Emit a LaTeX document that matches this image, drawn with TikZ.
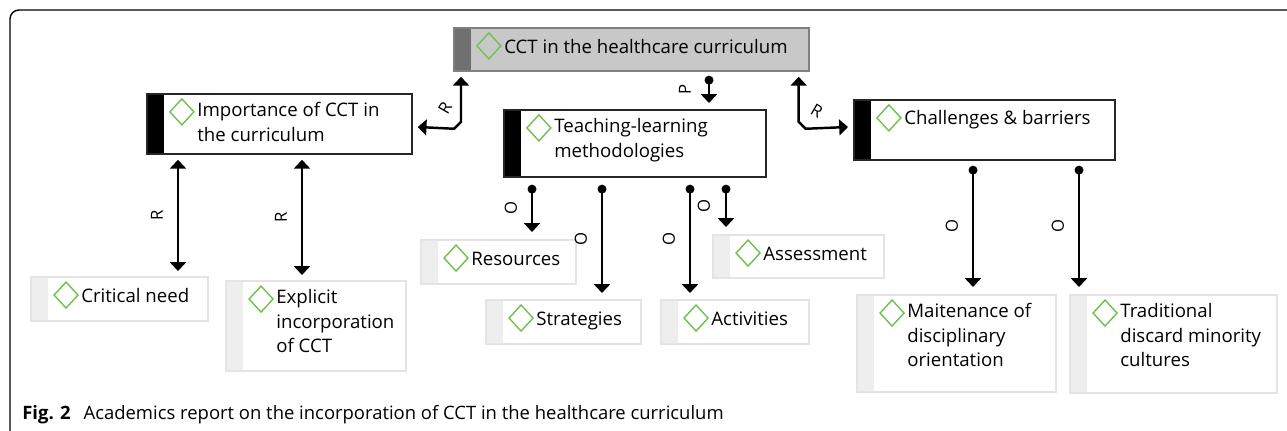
\documentclass[tikz,border=0pt]{standalone}
\usepackage{fontspec}
\setmainfont{Open Sans}
\usetikzlibrary{arrows.meta,calc}

\definecolor{dgreen}{RGB}{112,192,80}
\definecolor{rootgray}{RGB}{200,200,200}
\definecolor{rootbar}{RGB}{112,112,112}
\definecolor{leafline}{RGB}{228,228,228}
\definecolor{leafbar}{RGB}{238,238,238}

% bar on the left side and green diamond of every box
\newcommand{\barfill}[1]{\fill[#1] (path picture bounding box.north west) rectangle ([xshift=0.34cm]path picture bounding box.south west);}
\newcommand{\dmd}{\draw[dgreen,line width=0.8pt] ([shift={(0.46cm,-0.36cm)}]path picture bounding box.north west) -- ++(0.24cm,0.26cm) -- ++(0.24cm,-0.26cm) -- ++(-0.24cm,-0.26cm) -- cycle;}

\tikzset{
  base/.style={anchor=north west, inner sep=0pt},
  core/.style={base, draw=black!50, line width=1pt, fill=rootgray, path picture={\barfill{rootbar}\dmd}},
  topic/.style={base, draw=black!85, line width=1pt, fill=white, path picture={\barfill{black}\dmd}},
  leaf/.style={base, draw=leafline, line width=1.2pt, fill=white, path picture={\barfill{leafbar}\dmd}},
  txt/.style={anchor=north west, inner sep=0pt, align=left, font=\fontsize{10.6}{14}\selectfont, execute at begin node=\strut},
  link/.style={line width=1.4pt},
  rel/.style={font=\fontsize{9.5}{10}\selectfont, inner sep=1pt},
}

\begin{document}
\begin{tikzpicture}[x=0.02cm,y=-0.02cm,>={Triangle[width=9pt,length=5pt]}]
\useasboundingbox (0,0) rectangle (1287,430);
\draw[line width=0.8pt,rounded corners=0.18cm] (1295,10) -- (10,10) -- (10,440);

% boxes
\node[core, minimum width=7.10cm, minimum height=0.86cm] (root) at (453,27) {};
\node[topic, minimum width=5.30cm, minimum height=1.20cm] (imp) at (146,93) {};
\node[topic, minimum width=5.24cm, minimum height=1.34cm] (teach) at (503,109) {};
\node[topic, minimum width=5.22cm, minimum height=1.20cm] (chal) at (853,99) {};
\node[leaf, minimum width=3.54cm, minimum height=0.88cm] (crit) at (30,276) {};
\node[leaf, minimum width=3.60cm, minimum height=1.80cm] (expl) at (225,280) {};
\node[leaf, minimum width=3.10cm, minimum height=0.88cm] (res) at (420,239) {};
\node[leaf, minimum width=3.10cm, minimum height=0.88cm] (strat) at (485,299) {};
\node[leaf, minimum width=2.96cm, minimum height=0.88cm] (act) at (660,299) {};
\node[leaf, minimum width=3.42cm, minimum height=0.86cm] (ass) at (712,234) {};
\node[leaf, minimum width=3.98cm, minimum height=1.94cm] (main) at (856,294) {};
\node[leaf, minimum width=4.14cm, minimum height=1.96cm] (trad) at (1069,294) {};

% texts
\node[txt] (root-t) at ($(root.north west)+(51,9)$) {CCT in the healthcare curriculum};
\node[txt] (imp-t) at ($(imp.north west)+(51,9)$) {Importance of CCT in\\the curriculum};
\node[txt] (teach-t) at ($(teach.north west)+(51,9)$) {Teaching-learning\\methodologies};
\node[txt] (chal-t) at ($(chal.north west)+(51,8)$) {Challenges \& barriers};
\node[txt] (crit-t) at ($(crit.north west)+(51,9)$) {Critical need};
\node[txt] (expl-t) at ($(expl.north west)+(51,9)$) {Explicit\\incorporation\\of CCT};
\node[txt] (res-t) at ($(res.north west)+(51,9)$) {Resources};
\node[txt] (strat-t) at ($(strat.north west)+(51,9)$) {Strategies};
\node[txt] (act-t) at ($(act.north west)+(51,9)$) {Activities};
\node[txt] (ass-t) at ($(ass.north west)+(51,9)$) {Assessment};
\node[txt] (main-t) at ($(main.north west)+(51,9)$) {Maitenance of\\disciplinary\\orientation};
\node[txt] (trad-t) at ($(trad.north west)+(51,9)$) {Traditional\\discard minority\\cultures};

% links from the root
\draw[link,<->] ($(root.south west)+(8,5)$) -- node[rel,pos=0.7,xshift=-0.32cm,rotate=60]{R} ++(0,45) -- ++(-7,7) -- ($(imp.north east)+(5,34)$);
\draw[link,<->] ($(root.south east)+(-11,5)$) -- node[rel,pos=0.77,xshift=0.36cm,rotate=-30]{R} ++(0,45) -- ++(7,7) -- ($(chal.north west)+(-5,28)$);
\draw[link,{Circle[length=5pt]}->] ($(root.south west)+(256,4)$) -- node[rel,xshift=-0.48cm,rotate=90]{P} ($(teach.north west)+(206,-6)$);

% importance
\draw[link,<->] ($(imp.south west)+(32,5)$) -- node[rel,xshift=-0.42cm,rotate=90]{R} ($(crit.north west)+(148,-5)$);
\draw[link,<->] ($(imp.south west)+(156,5)$) -- node[rel,xshift=-0.42cm,rotate=90]{R} ($(expl.north west)+(77,-5)$);

% teaching-learning
\draw[link,{Circle[length=5pt]}->] ($(teach.south west)+(29,7)$) -- node[rel,xshift=-0.42cm,rotate=90]{O} ($(res.north west)+(112,-7)$);
\draw[link,{Circle[length=5pt]}->] ($(teach.south west)+(99,7)$) -- node[rel,xshift=-0.42cm,rotate=90]{O} ($(strat.north west)+(117,-6)$);
\draw[link,{Circle[length=5pt]}->] ($(teach.south west)+(187,7)$) -- node[rel,xshift=-0.42cm,rotate=90]{O} ($(act.north west)+(30,-6)$);
\draw[link,{Circle[length=5pt]}->] ($(teach.south west)+(223,7)$) -- node[rel,xshift=-0.44cm,rotate=90]{O} ($(ass.north west)+(14,-7)$);

% challenges
\draw[link,{Circle[length=5pt]}->] ($(chal.south west)+(120,5)$) -- node[rel,xshift=-0.42cm,rotate=90]{O} ($(main.north west)+(117,-7)$);
\draw[link,{Circle[length=5pt]}->] ($(chal.south west)+(226,5)$) -- node[rel,xshift=-0.42cm,rotate=90]{O} ($(trad.north west)+(10,-7)$);

\node[anchor=base west, inner sep=0pt, font=\fontsize{10.5}{12}\selectfont] (cap) at (22,419) {\textbf{Fig. 2}\hspace{0.7em}Academics report on the incorporation of CCT in the healthcare curriculum};
\end{tikzpicture}
\end{document}
